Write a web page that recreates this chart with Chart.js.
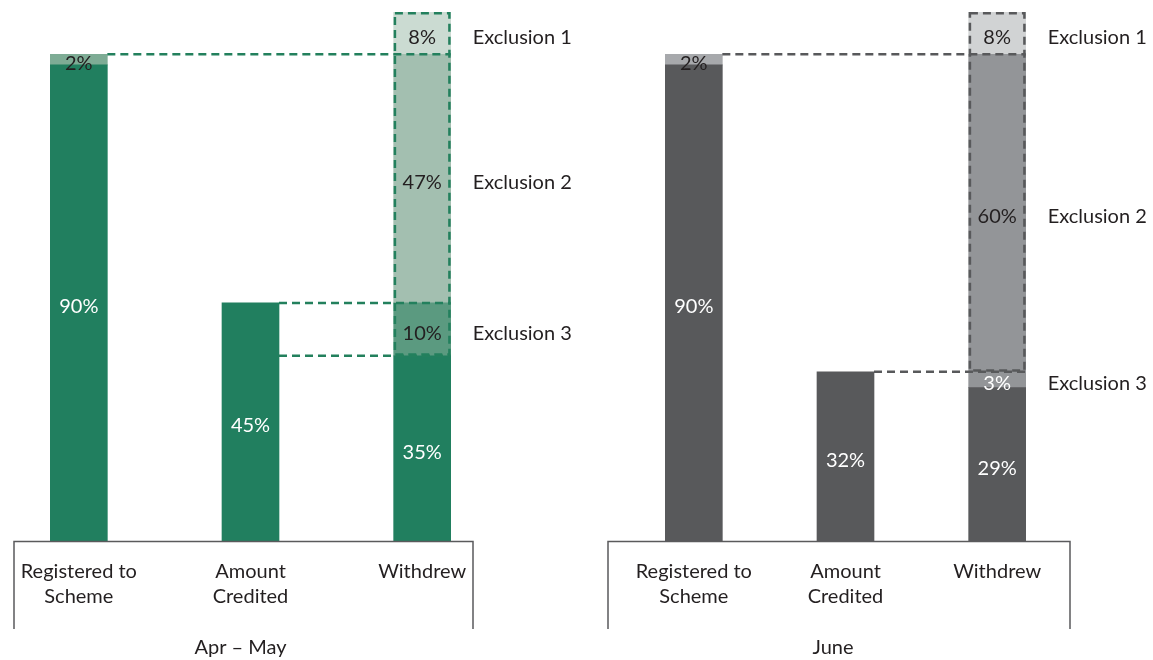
<!DOCTYPE html>
<html>
<head>
<meta charset="utf-8">
<script src="https://cdn.jsdelivr.net/npm/chart.js@4.4.1/dist/chart.umd.min.js"></script>
<style>
  html, body { margin: 0; padding: 0; background: #ffffff; width: 1153px; height: 660px; overflow: hidden; position: relative; }
  canvas { position: absolute; top: 0; }
  #aprMay { left: -7px; }
  #june { left: 598px; }
</style>
</head>
<body>
<canvas id="aprMay" width="597" height="660"></canvas>
<canvas id="june" width="555" height="660"></canvas>
<script>
// Categories shared by both periods
const categories = [['Registered to', 'Scheme'], ['Amount', 'Credited'], 'Withdrew'];
const exclusionNames = ['Exclusion 1', 'Exclusion 2', 'Exclusion 3'];

// Apr – May (percent)
const aprMayMain = [90, 45, 35];
const aprMayRemainder = [2, null, null];
const aprMayExclusion3 = [null, null, 10];
const aprMayExclusion2 = [null, null, 47];
const aprMayExclusion1 = [null, null, 8];

// June (percent)
const juneMain = [90, 32, 29];
const juneRemainder = [2, null, null];
const juneExclusion3 = [null, null, 3];
const juneExclusion2 = [null, null, 60];
const juneExclusion1 = [null, null, 8];

const FONT = 'Lato, "Open Sans", sans-serif';
const TEXT = '#231f20';

const total = (...series) => series.reduce((s, arr) => s + (arr[2] || 0), 0);

// Draws value labels, exclusion names, dashed guides and the axis bracket
const annotate = {
  id: 'annotate',
  afterDatasetsDraw(chart, args, opts) {
    const ctx = chart.ctx;
    const ys = chart.scales.y;
    const bars = chart.getDatasetMeta(0).data;
    const last = bars[bars.length - 1];
    const rightEdge = last.x + last.width / 2;
    const area = chart.chartArea;
    ctx.save();

    // value labels inside each segment
    ctx.font = '20px ' + FONT;
    ctx.textAlign = 'center';
    ctx.textBaseline = 'middle';
    chart.data.datasets.forEach((ds, di) => {
      const meta = chart.getDatasetMeta(di);
      ds.data.forEach((v, i) => {
        if (v == null) return;
        const el = meta.data[i];
        ctx.fillStyle = ds.labelColor;
        ctx.fillText(v + '%', el.x, (el.y + el.base) / 2 + 4);
      });
    });

    // exclusion names to the right of the withdrew bar
    ctx.textAlign = 'left';
    ctx.fillStyle = TEXT;
    opts.exclusions.forEach(({ dataset, name }) => {
      const el = chart.getDatasetMeta(dataset).data[2];
      ctx.fillText(name, rightEdge + 22, (el.y + el.base) / 2 + 4);
    });

    // dashed guides
    ctx.strokeStyle = opts.dash;
    ctx.lineWidth = 2.5;
    ctx.setLineDash([8, 5]);
    opts.guides.forEach(g => {
      const py = ys.getPixelForValue(g.value);
      const from = bars[g.from];
      ctx.beginPath();
      ctx.moveTo(from.x + from.width / 2, py);
      ctx.lineTo(rightEdge, py);
      ctx.stroke();
    });
    const top = ys.getPixelForValue(opts.box.top);
    const bottom = ys.getPixelForValue(opts.box.bottom);
    ctx.strokeRect(last.x - last.width / 2 + 1.25, top + 1.25, last.width - 2.5, bottom - top - 2.5);

    // axis bracket
    ctx.setLineDash([]);
    ctx.strokeStyle = '#5a5a5c';
    ctx.lineWidth = 1.5;
    ctx.beginPath();
    ctx.moveTo(opts.bracket.left, 629);
    ctx.lineTo(opts.bracket.left, area.bottom + 0.5);
    ctx.lineTo(opts.bracket.right, area.bottom + 0.5);
    ctx.lineTo(opts.bracket.right, 629);
    ctx.stroke();

    // period title
    ctx.textAlign = 'center';
    ctx.fillStyle = TEXT;
    ctx.fillText(opts.title, (opts.bracket.left + opts.bracket.right) / 2 + opts.titleShift, 648);
    ctx.restore();
  }
};

function makeChart(id, cfg) {
  return new Chart(document.getElementById(id), {
    type: 'bar',
    data: {
      labels: categories,
      datasets: cfg.series.map(s => ({
        label: s.name,
        data: s.data,
        backgroundColor: s.color,
        labelColor: s.labelColor,
        borderWidth: 0,
        barThickness: 57
      }))
    },
    options: {
      responsive: false,
      animation: false,
      devicePixelRatio: 1,
      layout: { padding: cfg.padding },
      plugins: {
        legend: { display: false },
        tooltip: { enabled: false },
        annotate: cfg.annotate
      },
      scales: {
        x: {
          stacked: true,
          grid: { display: false, drawTicks: false },
          border: { display: false },
          ticks: {
            autoSkip: false, maxRotation: 0, minRotation: 0,
            padding: 18, color: TEXT,
            font: { family: FONT, size: 20, lineHeight: '25px' }
          }
        },
        y: { stacked: true, display: false, min: 0, max: 100 }
      }
    },
    plugins: [annotate]
  });
}

makeChart('aprMay', {
  padding: { left: 0, right: 82, top: 12, bottom: 33 },
  series: [
    { name: 'main', data: aprMayMain, color: '#217f5f', labelColor: '#ffffff' },
    { name: 'remainder', data: aprMayRemainder, color: '#7eac95', labelColor: TEXT },
    { name: exclusionNames[2], data: aprMayExclusion3, color: '#5b9a80', labelColor: TEXT },
    { name: exclusionNames[1], data: aprMayExclusion2, color: '#a3bfb0', labelColor: TEXT },
    { name: exclusionNames[0], data: aprMayExclusion1, color: '#cbdbd2', labelColor: TEXT }
  ],
  annotate: {
    title: 'Apr \u2013 May',
    titleShift: -3,
    dash: '#23805d',
    bracket: { left: 21, right: 480 },
    exclusions: [
      { dataset: 4, name: exclusionNames[0] },
      { dataset: 3, name: exclusionNames[1] },
      { dataset: 2, name: exclusionNames[2] }
    ],
    guides: [
      { value: aprMayMain[0] + aprMayRemainder[0], from: 0 },
      { value: aprMayMain[1], from: 1 },
      { value: aprMayMain[2], from: 1 }
    ],
    box: {
      top: total(aprMayMain, aprMayExclusion3, aprMayExclusion2, aprMayExclusion1),
      bottom: aprMayMain[2]
    }
  }
});

makeChart('june', {
  padding: { left: 20, right: 80, top: 12, bottom: 33 },
  series: [
    { name: 'main', data: juneMain, color: '#58595b', labelColor: '#ffffff' },
    { name: 'remainder', data: juneRemainder, color: '#a7a9ac', labelColor: TEXT },
    { name: exclusionNames[2], data: juneExclusion3, color: '#939598', labelColor: '#ffffff' },
    { name: exclusionNames[1], data: juneExclusion2, color: '#939598', labelColor: TEXT },
    { name: exclusionNames[0], data: juneExclusion1, color: '#d1d3d4', labelColor: TEXT }
  ],
  annotate: {
    title: 'June',
    titleShift: -6,
    dash: '#58595b',
    bracket: { left: 10, right: 472 },
    exclusions: [
      { dataset: 4, name: exclusionNames[0] },
      { dataset: 3, name: exclusionNames[1] },
      { dataset: 2, name: exclusionNames[2] }
    ],
    guides: [
      { value: juneMain[0] + juneRemainder[0], from: 0 },
      { value: juneMain[1], from: 1 }
    ],
    box: {
      top: total(juneMain, juneExclusion3, juneExclusion2, juneExclusion1),
      bottom: juneMain[1]
    }
  }
});
</script>
</body>
</html>
